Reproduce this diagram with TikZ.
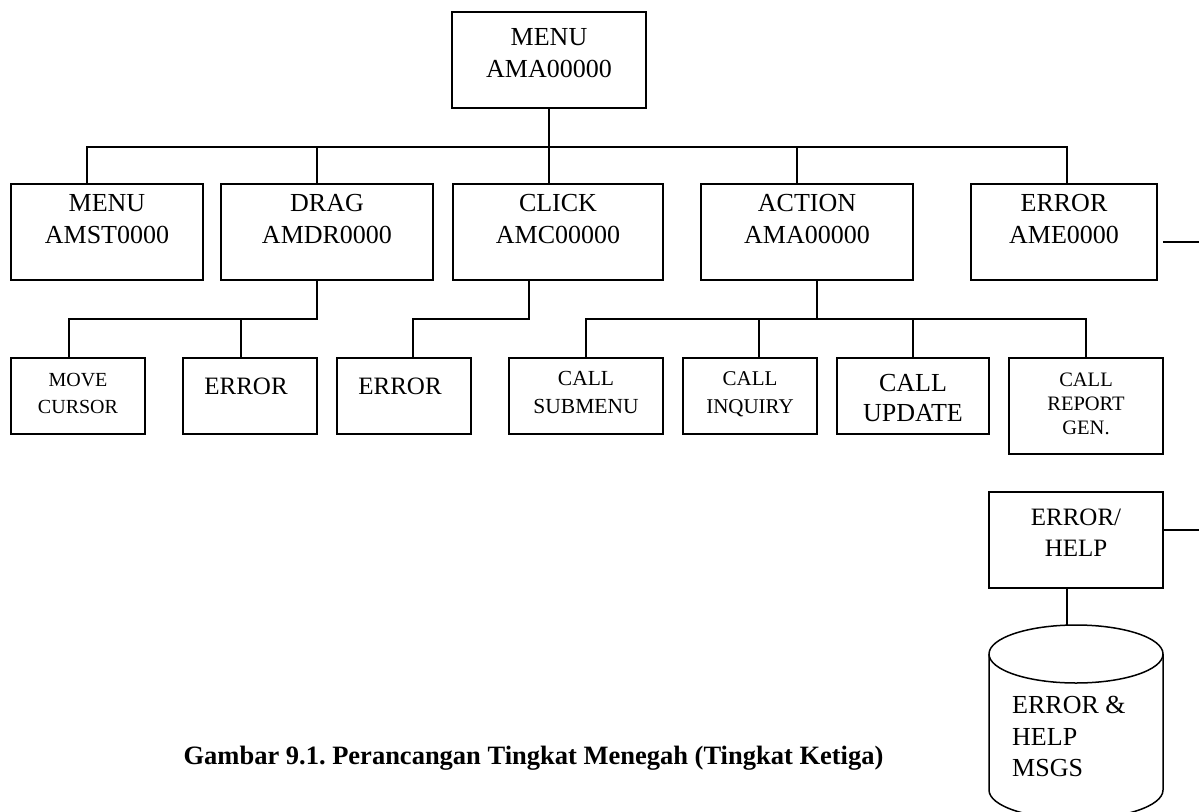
\documentclass[tikz,border=0pt]{standalone}
\usepackage{fontspec}
\setmainfont{Liberation Serif}
\usetikzlibrary{positioning}
\frenchspacing
\tikzset{
  box/.style={draw, line width=1.5pt, inner sep=0pt},
  lbl/.style={inner sep=0pt, align=center},
  f26/.style={font=\fontsize{26}{32}\selectfont},
  f25/.style={font=\fontsize{25}{31}\selectfont},
  f21/.style={font=\fontsize{21}{28}\selectfont},
  f20/.style={font=\fontsize{20.5}{24}\selectfont}
}
\begin{document}
\begin{tikzpicture}[x=1pt, y=-1pt]
  \useasboundingbox (0,0) rectangle (1199,811);
  % boxes
  \node[box, minimum width=194pt, minimum height=96pt] (top) at (549,60) {};
  \node[box, minimum width=192pt, minimum height=96pt] (s1) at (107,232) {};
  \node[box, minimum width=212pt, minimum height=96pt] (s2) at (327,232) {};
  \node[box, minimum width=210pt, minimum height=96pt] (s3) at (558,232) {};
  \node[box, minimum width=212pt, minimum height=96pt] (s4) at (807,232) {};
  \node[box, minimum width=186pt, minimum height=96pt] (s5) at (1064,232) {};
  \node[box, minimum width=134pt, minimum height=76pt] (b1) at (78,396) {};
  \node[box, minimum width=134pt, minimum height=76pt] (b2) at (250,396) {};
  \node[box, minimum width=134pt, minimum height=76pt] (b3) at (404,396) {};
  \node[box, minimum width=154pt, minimum height=76pt] (b4) at (586,396) {};
  \node[box, minimum width=134pt, minimum height=76pt] (b5) at (750,396) {};
  \node[box, minimum width=152pt, minimum height=76pt] (b6) at (913,396) {};
  \node[box, minimum width=154pt, minimum height=96pt] (b7) at (1086,406) {};
  \node[box, minimum width=174pt, minimum height=96pt] (eh) at (1076,540) {};
  % texts
  \node[lbl, f26, below=17pt of top.north] (topt) {MENU\\AMA00000};
  \node[lbl, f26, below=11pt of s1.north] (s1t) {MENU\\AMST0000};
  \node[lbl, f26, below=11pt of s2.north] (s2t) {DRAG\\AMDR0000};
  \node[lbl, f26, below=11pt of s3.north] (s3t) {CLICK\\AMC00000};
  \node[lbl, f26, below=11pt of s4.north] (s4t) {ACTION\\AMA00000};
  \node[lbl, f26, below=11pt of s5.north] (s5t) {ERROR\\AME0000};
  \node[lbl, font=\fontsize{20}{27}\selectfont, below=16pt of b1.north] (b1t) {MOVE\\CURSOR};
  \node[lbl, f25, below=20pt of b2.north, xshift=-4pt] (b2t) {ERROR};
  \node[lbl, f25, below=20pt of b3.north, xshift=-4pt] (b3t) {ERROR};
  \node[lbl, font=\fontsize{21.5}{28}\selectfont, below=14pt of b4.north] (b4t) {CALL\\SUBMENU};
  \node[lbl, f21, below=14pt of b5.north] (b5t) {CALL\\INQUIRY};
  \node[lbl, font=\fontsize{26}{30}\selectfont, below=17pt of b6.north] (b6t) {CALL\\UPDATE};
  \node[lbl, f20, below=15pt of b7.north] (b7t) {CALL\\REPORT\\GEN.};
  \node[lbl, f25, below=17pt of eh.north] (eht) {ERROR/\\HELP};
  % tree lines
  \begin{scope}[line width=1.5pt]
    \draw (top.south) -- ++(0,38) -| ([xshift=-20pt]s1.north);
    \draw (top.south) -- ++(0,38) -| ([xshift=-10pt]s2.north);
    \draw (top.south) -- ++(0,38) -| ([xshift=-9pt]s3.north);
    \draw (top.south) -- ++(0,38) -| ([xshift=-10pt]s4.north);
    \draw (top.south) -- ++(0,38) -| ([xshift=3pt]s5.north);
    \draw ([xshift=-10pt]s2.south) -- ++(0,38) -| ([xshift=-9pt]b1.north);
    \draw ([xshift=-10pt]s2.south) -- ++(0,38) -| ([xshift=-9pt]b2.north);
    \draw ([xshift=-29pt]s3.south) -- ++(0,38) -| ([xshift=9pt]b3.north);
    \draw ([xshift=10pt]s4.south) -- ++(0,38) -| (b4.north);
    \draw ([xshift=10pt]s4.south) -- ++(0,38) -| ([xshift=9pt]b5.north);
    \draw ([xshift=10pt]s4.south) -- ++(0,38) -| (b6.north);
    \draw ([xshift=10pt]s4.south) -- ++(0,38) -| (b7.north);
    \coordinate (eout) at (1199,242);
    \coordinate (hout) at (1199,530);
    \coordinate (db) at (1067,625);
    \draw ([shift={(5,10)}]s5.east) -- (eout);
    \draw ([yshift=10pt]eh.east) -- (hout);
    \draw ([xshift=-9pt]eh.south) -- (db);
    % data store
    \draw (1076,654) ellipse [x radius=87, y radius=29];
    \draw (989,654) -- (989,790) arc [start angle=180, end angle=0, x radius=87, y radius=29] -- (1163,654);
  \end{scope}
  \node[lbl, align=left, anchor=north west, font=\fontsize{26}{31.5}\selectfont] (dbt) at (1012,696) {ERROR \&\\HELP\\MSGS};
  \node[anchor=base, inner sep=0pt, font=\fontsize{26.5}{30}\selectfont\bfseries] (cap) at (533.5,764) {Gambar 9.1. Perancangan Tingkat Menegah (Tingkat Ketiga)};
\end{tikzpicture}
\end{document}
